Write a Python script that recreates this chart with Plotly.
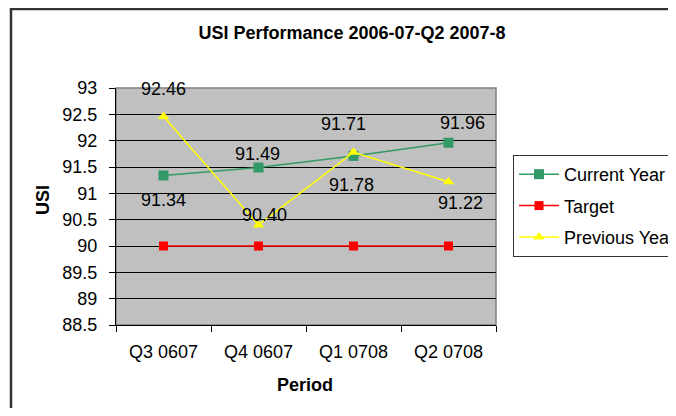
import plotly.graph_objects as go

periods = ["Q3 0607", "Q4 0607", "Q1 0708", "Q2 0708"]
current_year = [91.34, 91.49, 91.71, 91.96]
target = [90, 90, 90, 90]
previous_year = [92.46, 90.40, 91.78, 91.22]

# label offsets (pixels) for data labels
cur_yshift = [-25, 14, 32, 20]
cur_xshift = [0, -1, -10, 14]
prev_yshift = [27, 10, -33, -21]
prev_xshift = [0, 6, -2, 12]

FONT = "Liberation Sans, Arial, sans-serif"
OFF = 8  # page body margin
W, H = 676 - OFF, 416 - 2 * OFF
# plot area in window pixels: x 116..496, y 88..325
L, T = 116 - OFF, 88 - OFF
R = W - (496 - OFF)
B = H - (325 - OFF)
pw, ph = W - L - R, H - T - B


def px_x(x):
    return (x - OFF - L) / pw


def px_y(y):
    return (H - B - (y - OFF)) / ph


fig = go.Figure()
fig.add_trace(go.Scatter(x=periods, y=current_year, name="Current Year", mode="lines+markers",
                         line=dict(color="#339966", width=1.5),
                         marker=dict(symbol="square", size=10, color="#339966"),
                         legendgroup="a"))
fig.add_trace(go.Scatter(x=periods, y=target, name="Target", mode="lines+markers",
                         line=dict(color="#FF0000", width=1.5),
                         marker=dict(symbol="square", size=9, color="#FF0000"),
                         legendgroup="b"))
fig.add_trace(go.Scatter(x=periods, y=previous_year, name="Previous Year", mode="lines+markers",
                         line=dict(color="#FFFF00", width=1.5),
                         marker=dict(symbol="triangle-up", size=10, color="#FFFF00"),
                         legendgroup="c"))

annotations = []
for p, v, ys, xs in zip(periods, current_year, cur_yshift, cur_xshift):
    annotations.append(dict(x=p, y=v, text=f"{v:.2f}", showarrow=False, yshift=ys, xshift=xs,
                            xanchor="center", yanchor="middle",
                            font=dict(family=FONT, size=18, color="black")))
for p, v, ys, xs in zip(periods, previous_year, prev_yshift, prev_xshift):
    annotations.append(dict(x=p, y=v, text=f"{v:.2f}", showarrow=False, yshift=ys, xshift=xs,
                            xanchor="center", yanchor="middle",
                            font=dict(family=FONT, size=18, color="black")))

annotations.append(dict(xref="paper", yref="paper", x=px_x(43), y=px_y(200), text="<b>USI</b>",
                        xanchor="center", yanchor="middle",
                        textangle=-90, showarrow=False, font=dict(family=FONT, size=18, color="black")))
annotations.append(dict(xref="paper", yref="paper", x=px_x(305), y=px_y(385), text="<b>Period</b>",
                        xanchor="center", yanchor="middle",
                        showarrow=False, font=dict(family=FONT, size=18, color="black")))

shapes = [
    dict(type="rect", xref="paper", yref="paper", x0=px_x(11), x1=px_x(720), y0=px_y(460), y1=px_y(9),
         line=dict(color="#333333", width=2.5), fillcolor="rgba(0,0,0,0)", layer="below"),
    dict(type="rect", xref="paper", yref="paper", x0=0, x1=1, y0=0, y1=1,
         line=dict(color="#808080", width=1.5), fillcolor="rgba(0,0,0,0)", layer="below"),
]

fig.update_layout(
    width=W, height=H,
    margin=dict(l=L, r=R, t=T, b=B, autoexpand=False),
    paper_bgcolor="white",
    plot_bgcolor="#C0C0C0",
    title=dict(text="<b>USI Performance 2006-07-Q2 2007-8</b>", x=px_x(352), xref="paper", xanchor="center",
               y=1 - (33 - OFF) / H, yanchor="middle", font=dict(family=FONT, size=18, color="black")),
    font=dict(family=FONT, size=18, color="black"),
    showlegend=True,
    legend=dict(x=px_x(513), y=px_y(155), xanchor="left", yanchor="top",
                bgcolor="white", bordercolor="#333333", borderwidth=1,
                font=dict(family=FONT, size=18, color="black"),
                tracegroupgap=5, itemwidth=40, traceorder="grouped"),
    xaxis=dict(range=[-0.5, 3.5], showgrid=False, showline=True, linecolor="black", linewidth=1,
               ticks="outside", ticklen=6, tickcolor="black", tickson="boundaries",
               tickfont=dict(family=FONT, size=18), ticklabelstandoff=10, fixedrange=True),
    yaxis=dict(range=[88.5, 93], dtick=0.5, tick0=88.5, showgrid=True, gridcolor="black", gridwidth=1,
               showline=True, linecolor="black", linewidth=1, ticks="outside", ticklen=6,
               tickcolor="black", tickfont=dict(family=FONT, size=18), zeroline=False,
               ticklabelstandoff=8, fixedrange=True),
    annotations=annotations,
    shapes=shapes,
)

fig.write_html("out.html")
